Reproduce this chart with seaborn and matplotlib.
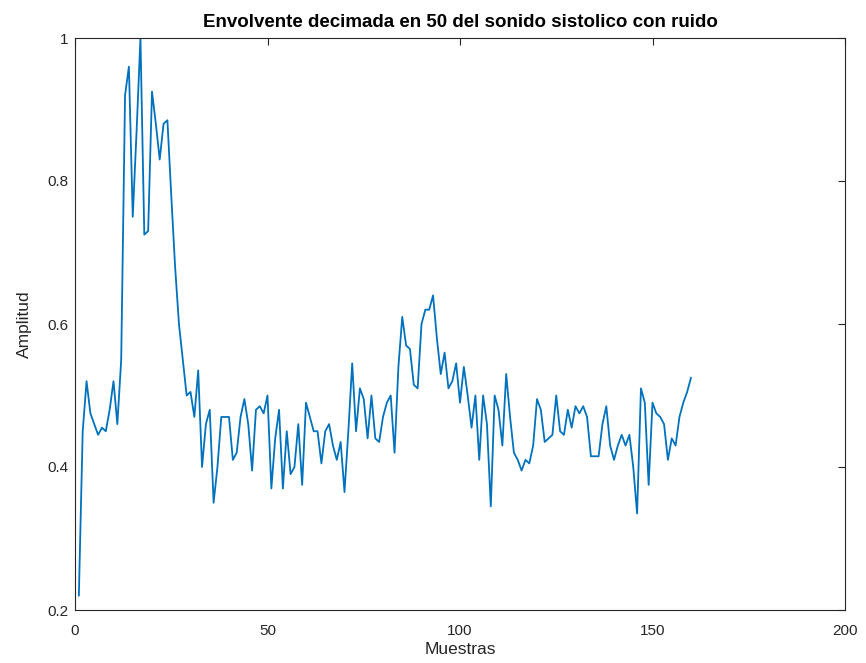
import numpy as np
import pandas as pd
import matplotlib
matplotlib.use("Agg")
import matplotlib.pyplot as plt
import seaborn as sns

amplitud = [
    0.22, 0.45, 0.52, 0.475, 0.46, 0.445, 0.455, 0.45, 0.48, 0.52,
    0.46, 0.55, 0.92, 0.96, 0.75, 0.87, 1.0, 0.725, 0.73, 0.925,
    0.88, 0.83, 0.88, 0.885, 0.78, 0.68, 0.60, 0.55, 0.50, 0.505,
    0.47, 0.535, 0.40, 0.46, 0.48, 0.35, 0.40, 0.47, 0.47, 0.47,
    0.41, 0.42, 0.47, 0.495, 0.46, 0.395, 0.48, 0.485, 0.475, 0.50,
    0.37, 0.44, 0.48, 0.37, 0.45, 0.39, 0.40, 0.46, 0.375, 0.49,
    0.47, 0.45, 0.45, 0.405, 0.45, 0.46, 0.43, 0.41, 0.435, 0.365,
    0.45, 0.545, 0.45, 0.51, 0.495, 0.44, 0.50, 0.44, 0.435, 0.47,
    0.49, 0.50, 0.42, 0.54, 0.61, 0.57, 0.565, 0.515, 0.51, 0.60,
    0.62, 0.62, 0.64, 0.58, 0.53, 0.56, 0.51, 0.52, 0.545, 0.49,
    0.54, 0.50, 0.455, 0.50, 0.41, 0.50, 0.46, 0.345, 0.50, 0.48,
    0.43, 0.53, 0.47, 0.42, 0.41, 0.395, 0.41, 0.405, 0.43, 0.495,
    0.48, 0.435, 0.44, 0.445, 0.50, 0.45, 0.445, 0.48, 0.455, 0.485,
    0.475, 0.485, 0.47, 0.415, 0.415, 0.415, 0.46, 0.485, 0.43, 0.41,
    0.43, 0.445, 0.43, 0.445, 0.40, 0.335, 0.51, 0.49, 0.375, 0.49,
    0.475, 0.47, 0.46, 0.41, 0.44, 0.43, 0.47, 0.49, 0.505, 0.525,
]
muestras = list(range(1, len(amplitud) + 1))

x_ticks = [0, 50, 100, 150, 200]
y_ticks = [0.2, 0.4, 0.6, 0.8, 1.0]
y_tick_labels = ["0.2", "0.4", "0.6", "0.8", "1"]

df = pd.DataFrame({"Muestras": muestras, "Amplitud": amplitud})

sns.set_style("white")
plt.rcParams["font.family"] = ["Liberation Sans", "DejaVu Sans"]

fig = plt.figure(figsize=(8.66, 6.63), dpi=100)
ax = fig.add_axes([75 / 866, 53 / 663, 770 / 866, 572 / 663])

sns.lineplot(data=df, x="Muestras", y="Amplitud", ax=ax, color="#0072BD", linewidth=1.3)

ax.set_xlim(0, 200)
ax.set_ylim(0.2, 1.0)
ax.set_xticks(x_ticks)
ax.set_yticks(y_ticks)
ax.set_yticklabels(y_tick_labels)
ax.tick_params(direction="in", length=5, width=0.8, top=True, right=True,
               labelsize=11, colors="#262626", pad=5)
ax.tick_params(axis="x", pad=10)
for s in ax.spines.values():
    s.set_visible(True)
    s.set_color("#262626")
    s.set_linewidth(0.8)
ax.set_xlabel("Muestras", fontsize=12.5, color="#262626", labelpad=3)
ax.set_ylabel("Amplitud", fontsize=12.5, color="#262626", labelpad=11)
ax.set_title("Envolvente decimada en 50 del sonido sistolico con ruido",
             fontsize=13.5, fontweight="bold", color="black", pad=8)

fig.savefig("out.png", dpi=100, facecolor="white")
